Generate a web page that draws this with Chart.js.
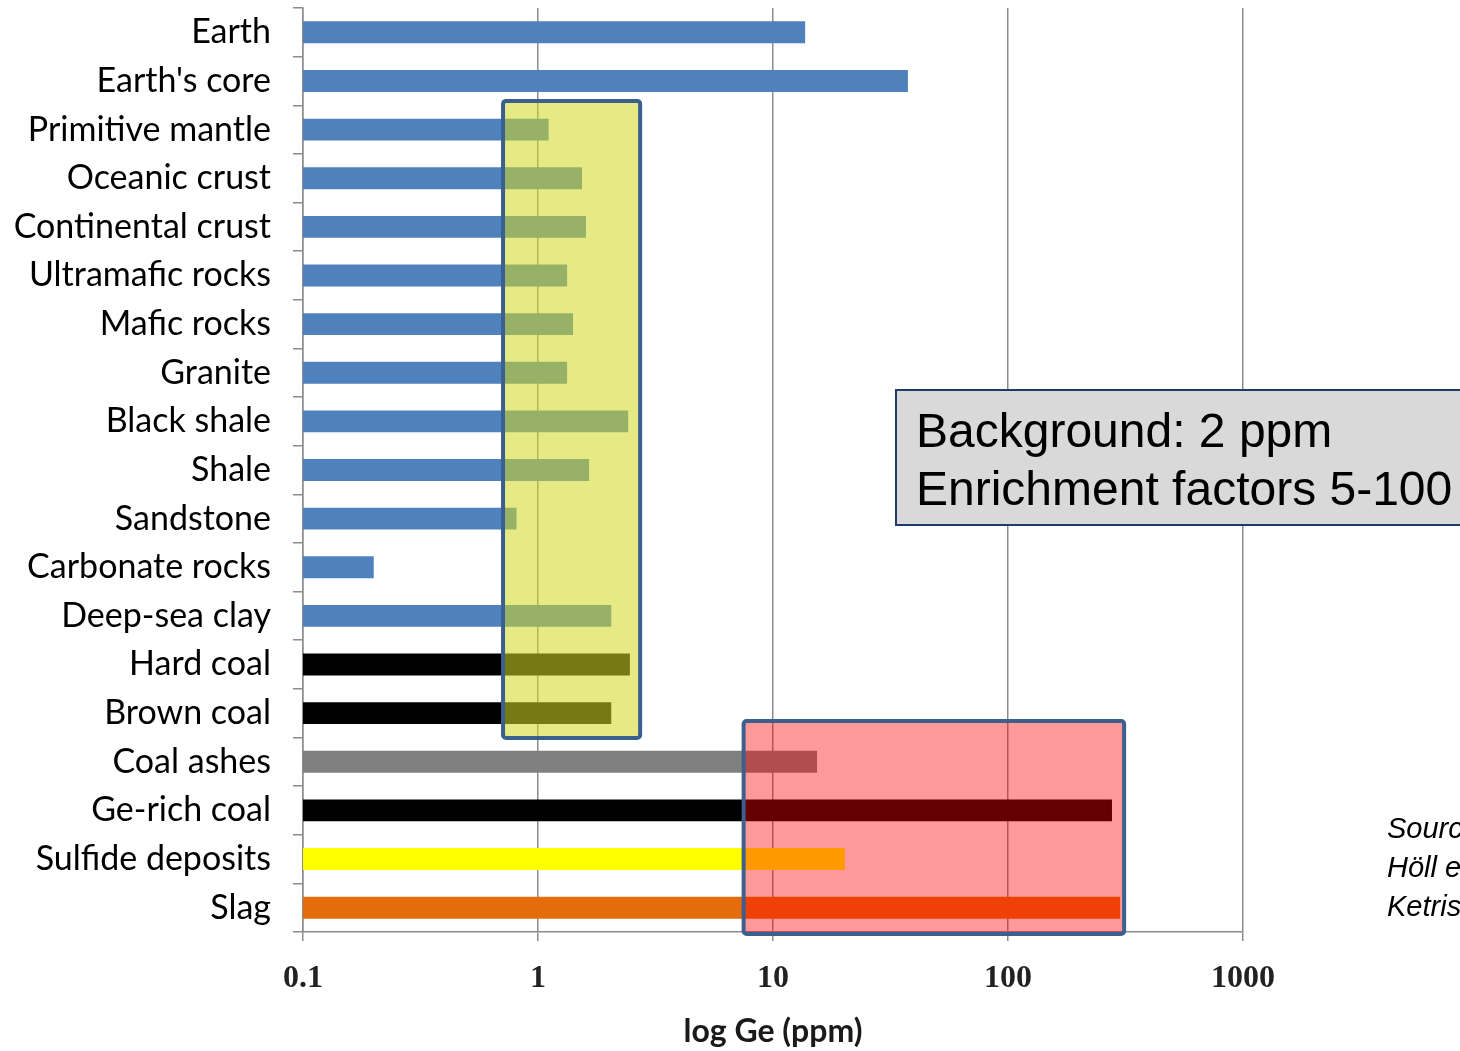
<!DOCTYPE html>
<html>
<head>
<meta charset="utf-8">
<script src="https://cdn.jsdelivr.net/npm/chart.js@4.4.1/dist/chart.umd.min.js"></script>
<style>
  html, body { margin: 0; padding: 0; background: #ffffff; }
  #wrap { width: 1460px; height: 1051px; position: relative; }
</style>
</head>
<body>
<div id="wrap"><canvas id="chart" width="1460" height="1051"></canvas></div>
<script>
// Germanium content of rocks, coals and industrial materials (ppm)
const categories = [
  'Earth', "Earth's core", 'Primitive mantle', 'Oceanic crust', 'Continental crust',
  'Ultramafic rocks', 'Mafic rocks', 'Granite', 'Black shale', 'Shale', 'Sandstone',
  'Carbonate rocks', 'Deep-sea clay', 'Hard coal', 'Brown coal', 'Coal ashes',
  'Ge-rich coal', 'Sulfide deposits', 'Slag'
];
const geValues = [
  13.7, 37.5, 1.11, 1.54, 1.6,
  1.33, 1.41, 1.33, 2.42, 1.65, 0.81,
  0.2, 2.05, 2.46, 2.05, 15.4,
  277, 20.2, 300
];
const barColors = [
  '#4f81bd', '#4f81bd', '#4f81bd', '#4f81bd', '#4f81bd',
  '#4f81bd', '#4f81bd', '#4f81bd', '#4f81bd', '#4f81bd', '#4f81bd',
  '#4f81bd', '#4f81bd', '#000000', '#000000', '#808080',
  '#000000', '#ffff00', '#e46c0a'
];
const tickValues = [0.1, 1, 10, 100, 1000];
const tickLabels = ['0.1', '1', '10', '100', '1000'];

// Highlighted ranges: Ge range (ppm) and first/last category covered
const commonRange = [0.71, 2.72];
const commonRows = ['Primitive mantle', 'Brown coal'];
const enrichedRange = [7.5, 312];
const enrichedRows = ['Coal ashes', 'Slag'];

const noteLines = ['Background: 2 ppm', 'Enrichment factors 5-100'];
const sourceLines = ['Source:', 'Höll et al.', 'Ketris & Yudovich'];

const PLOT_LEFT = 303;
const PLOT_BOTTOM = 932;

const overlayPlugin = {
  id: 'overlays',
  afterDatasetsDraw(chart) {
    const ctx = chart.ctx;
    const x = chart.scales.x, y = chart.scales.y;
    const boxes = [
      { range: commonRange, rows: commonRows, top: -0.59, bottom: 0.51, fill: 'rgba(209,218,36,0.56)' },
      { range: enrichedRange, rows: enrichedRows, top: -0.84, bottom: 0.54, fill: 'rgba(255,0,0,0.4)' }
    ];
    ctx.save();
    boxes.forEach(b => {
      const i0 = categories.indexOf(b.rows[0]);
      const i1 = categories.indexOf(b.rows[1]);
      const x0 = x.getPixelForValue(b.range[0]);
      const x1 = x.getPixelForValue(b.range[1]);
      const y0 = y.getPixelForValue(i0 + b.top);
      const y1 = y.getPixelForValue(i1 + b.bottom);
      ctx.beginPath();
      ctx.roundRect(x0, y0, x1 - x0, y1 - y0, 3);
      ctx.fillStyle = b.fill;
      ctx.fill();
      ctx.lineWidth = 4;
      ctx.strokeStyle = '#3b5f8e';
      ctx.stroke();
    });
    ctx.restore();
  },
  afterDraw(chart) {
    const ctx = chart.ctx;
    ctx.save();
    // note box
    ctx.fillStyle = '#d9d9d9';
    ctx.fillRect(896, 390, 600, 135);
    ctx.lineWidth = 2;
    ctx.strokeStyle = '#1f3a6b';
    ctx.strokeRect(896, 390, 600, 135);
    ctx.fillStyle = '#000000';
    ctx.font = '48px "Liberation Sans", Arial, sans-serif';
    ctx.textBaseline = 'alphabetic';
    ctx.textAlign = 'left';
    ctx.fillText(noteLines[0], 916, 447);
    ctx.fillText(noteLines[1], 916, 505);
    // source
    ctx.font = 'italic 29px "Liberation Sans", Arial, sans-serif';
    sourceLines.forEach((s, i) => ctx.fillText(s, 1387, 838 + i * 39));
    ctx.restore();
  }
};

new Chart(document.getElementById('chart'), {
  type: 'bar',
  data: {
    labels: categories,
    datasets: [{
      data: geValues,
      backgroundColor: barColors,
      borderWidth: 0,
      barPercentage: 0.9,
      categoryPercentage: 0.5
    }]
  },
  options: {
    indexAxis: 'y',
    responsive: false,
    animation: false,
    devicePixelRatio: 1,
    layout: { padding: { left: 0, right: 217, top: 8, bottom: 0 } },
    plugins: { legend: { display: false }, tooltip: { enabled: false } },
    scales: {
      x: {
        type: 'logarithmic',
        min: 0.1,
        max: 1000,
        afterBuildTicks(scale) { scale.ticks = tickValues.map(v => ({ value: v })); },
        afterFit(scale) { scale.height = 1051 - PLOT_BOTTOM; scale.paddingLeft = 0; scale.paddingRight = 0; },
        ticks: {
          autoSkip: false,
          maxRotation: 0,
          padding: 19,
          color: '#222222',
          font: { family: '"Liberation Serif", "Times New Roman", serif', size: 32, weight: 'bold' },
          callback: (v) => { const i = tickValues.indexOf(v); return i >= 0 ? tickLabels[i] : ''; }
        },
        grid: { color: '#8c8c8c', lineWidth: 1.5, tickLength: 9, drawTicks: true },
        border: { color: '#8c8c8c', width: 1.5 },
        title: {
          display: true,
          text: 'log Ge (ppm)',
          color: '#1a1a1a',
          font: { family: 'Lato, "Open Sans", sans-serif', size: 32, weight: 'bold' },
          padding: { top: 8, bottom: 0 }
        }
      },
      y: {
        afterFit(scale) { scale.width = PLOT_LEFT; scale.paddingTop = 0; scale.paddingBottom = 0; },
        ticks: {
          padding: 22,
          color: '#000000',
          font: { family: 'Lato, "Open Sans", sans-serif', size: 34 }
        },
        grid: { offset: true, drawOnChartArea: false, drawTicks: true, tickLength: 10, color: '#8c8c8c', lineWidth: 1.5 },
        border: { color: '#8c8c8c', width: 1.5 }
      }
    }
  },
  plugins: [overlayPlugin]
});
</script>
</body>
</html>
